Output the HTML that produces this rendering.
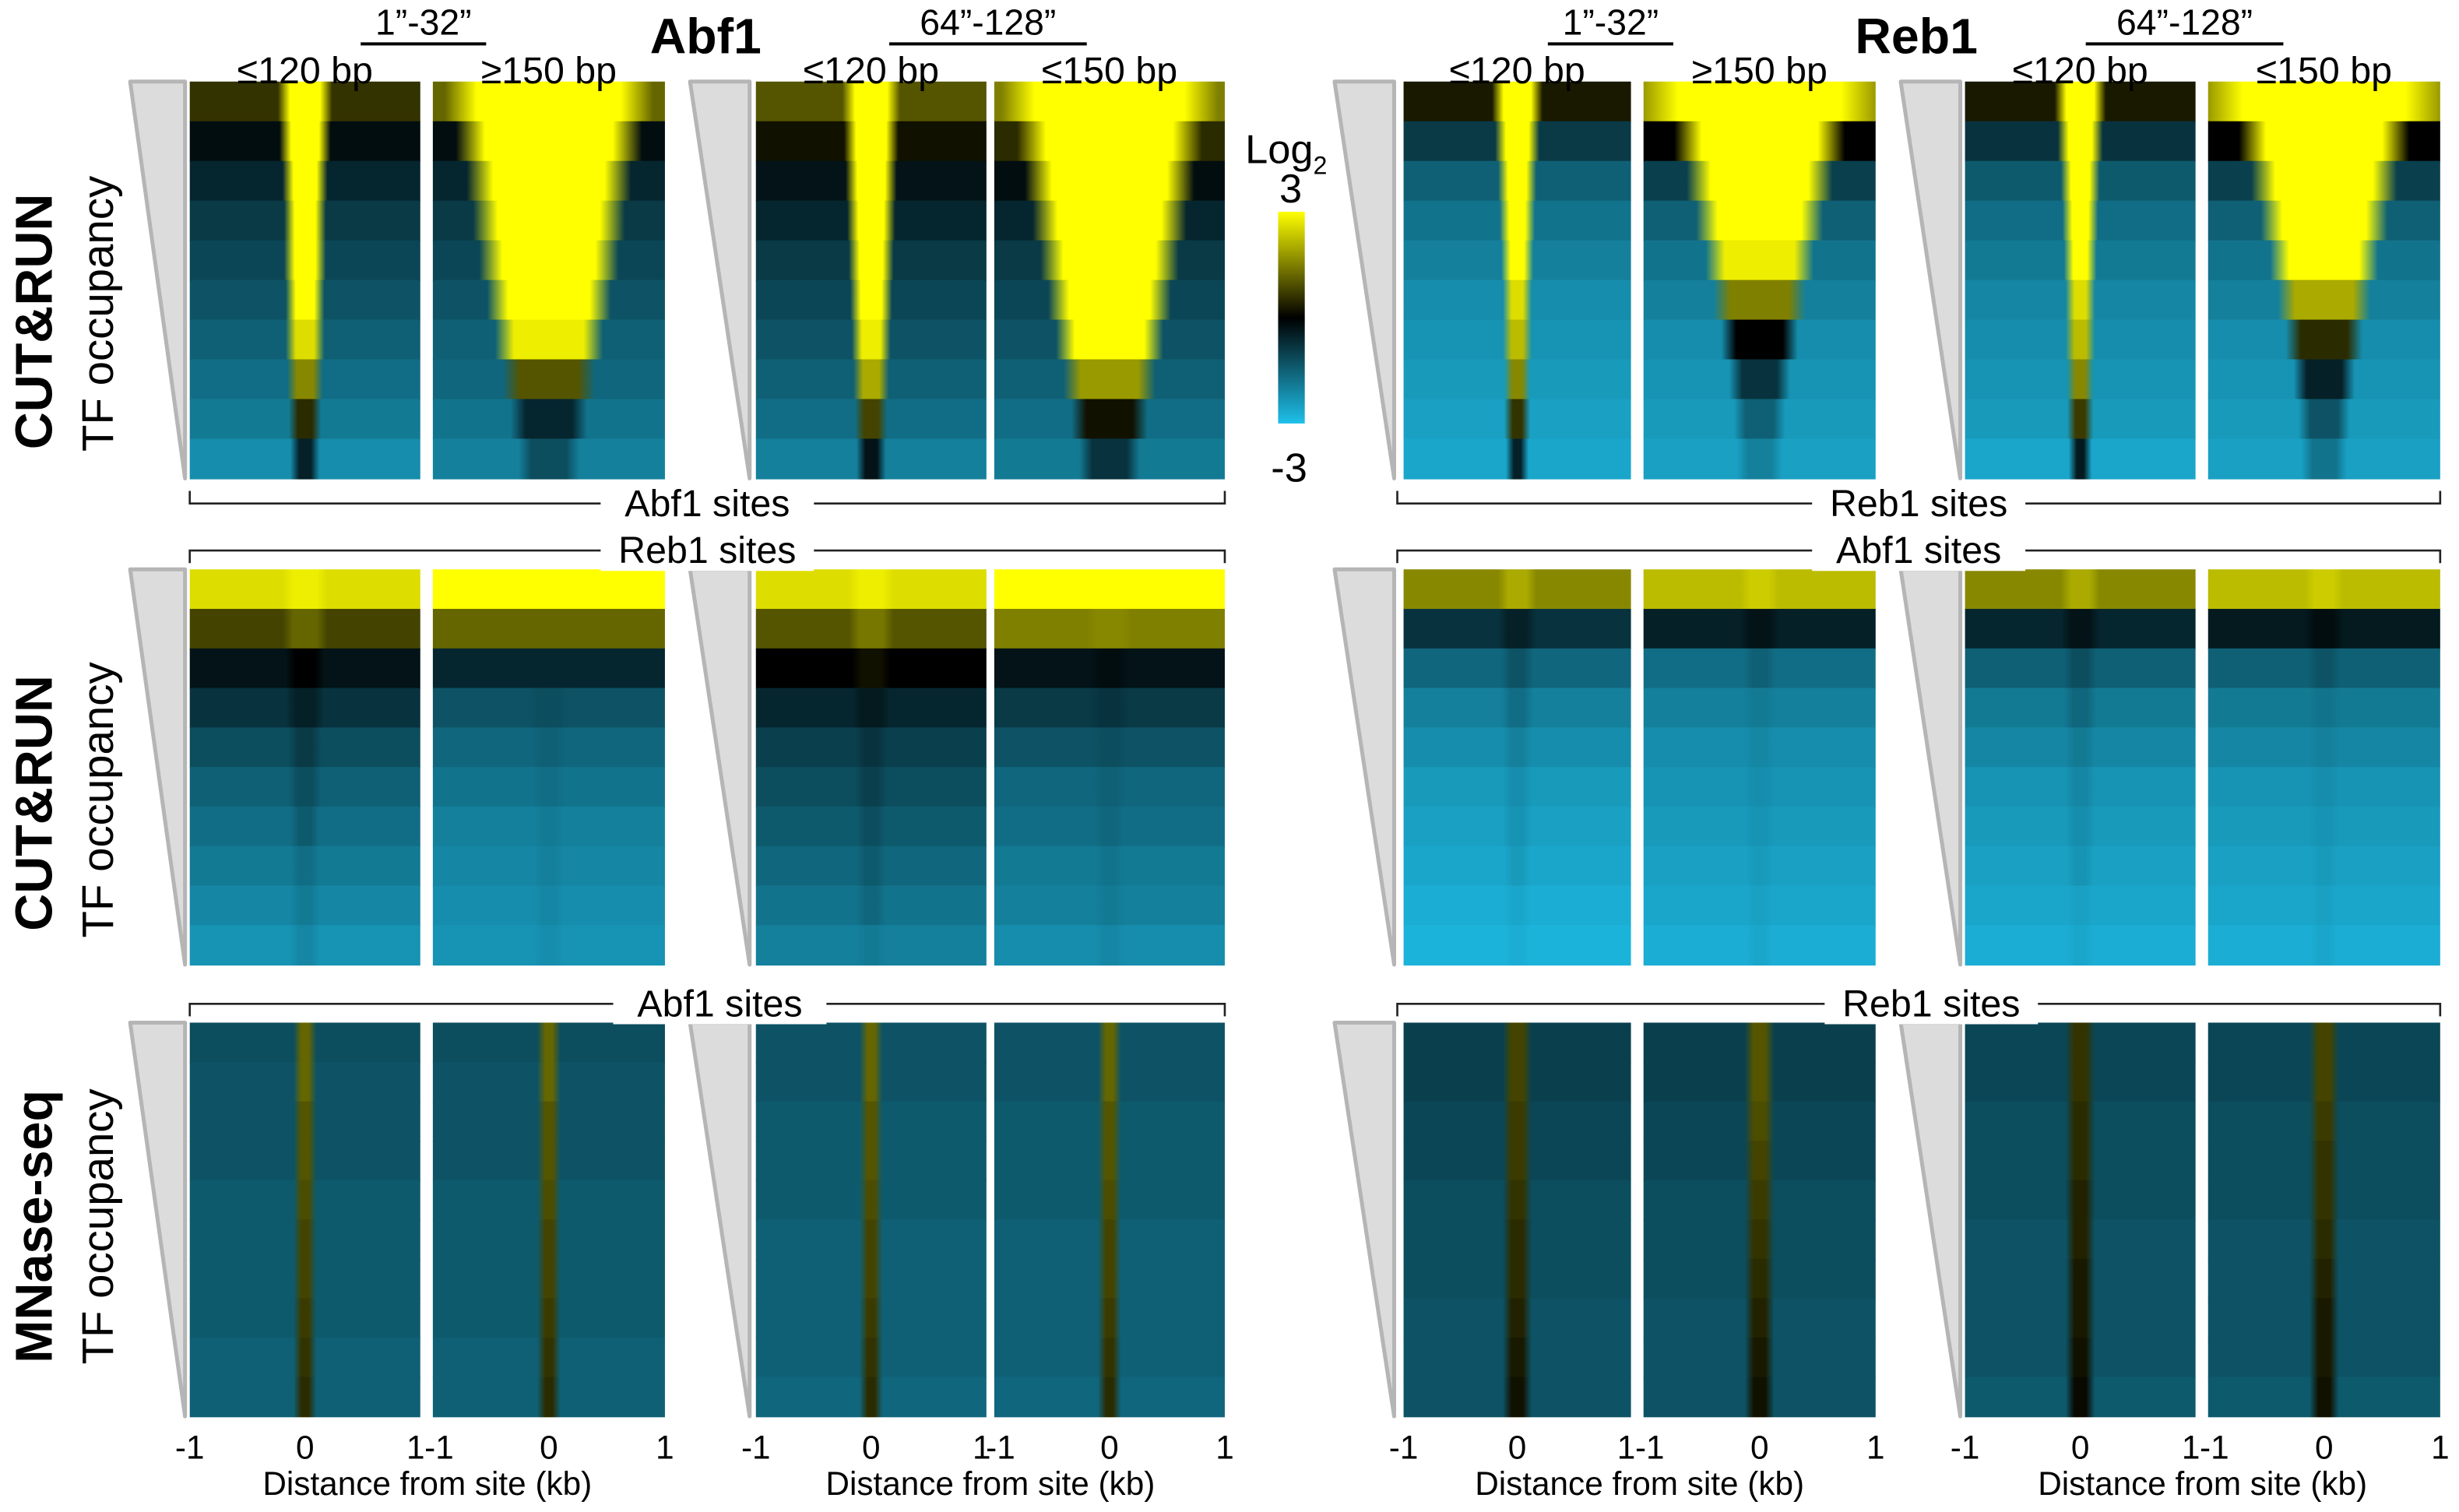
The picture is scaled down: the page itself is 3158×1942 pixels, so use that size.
<!DOCTYPE html>
<html><head><meta charset="utf-8"><style>
html,body{margin:0;padding:0;background:#fff;}
svg{display:block;}
text{font-family:"Liberation Sans",sans-serif;fill:#000;}
</style></head><body>
<svg id="fig" width="3158" height="1942" viewBox="0 0 1568 964" preserveAspectRatio="none" xmlns="http://www.w3.org/2000/svg">
<defs id="defs">
<linearGradient id="cbar" x1="0" y1="0" x2="0" y2="1">
<stop offset="0" stop-color="#ffff00"/><stop offset="0.5" stop-color="#000"/><stop offset="1" stop-color="#1ec0ea"/>
</linearGradient>
</defs>
<g id="static">
<text x="450" y="34" font-size="32" font-weight="bold" text-anchor="middle">Abf1</text>
<text x="1222" y="34" font-size="32" font-weight="bold" text-anchor="middle">Reb1</text>
<text x="270" y="22" font-size="23" text-anchor="middle">1”-32”</text>
<line x1="230" y1="28" x2="310" y2="28" stroke="#000" stroke-width="2"/>
<text x="630" y="22" font-size="23" text-anchor="middle">64”-128”</text>
<line x1="567" y1="28" x2="693" y2="28" stroke="#000" stroke-width="2"/>
<text x="1027" y="22" font-size="23" text-anchor="middle">1”-32”</text>
<line x1="987" y1="28" x2="1067" y2="28" stroke="#000" stroke-width="2"/>
<text x="1393" y="22" font-size="23" text-anchor="middle">64”-128”</text>
<line x1="1330" y1="28" x2="1456" y2="28" stroke="#000" stroke-width="2"/>
<text x="794" y="104" font-size="26">Log<tspan font-size="16" dy="7">2</tspan></text>
<text x="823" y="129" font-size="26" text-anchor="middle">3</text>
<rect x="815" y="135" width="17" height="135" fill="url(#cbar)"/>
<text x="822" y="307" font-size="26" text-anchor="middle">-3</text>
<text transform="translate(33,205) rotate(-90)" font-size="33" font-weight="bold" text-anchor="middle">CUT&amp;RUN</text>
<text transform="translate(72,200) rotate(-90)" font-size="28" text-anchor="middle">TF occupancy</text>
<text transform="translate(33,512) rotate(-90)" font-size="33" font-weight="bold" text-anchor="middle">CUT&amp;RUN</text>
<text transform="translate(72,510) rotate(-90)" font-size="28" text-anchor="middle">TF occupancy</text>
<text transform="translate(33,782) rotate(-90)" font-size="33" font-weight="bold" text-anchor="middle">MNase-seq</text>
<text transform="translate(72,782) rotate(-90)" font-size="28" text-anchor="middle">TF occupancy</text>
</g>
<g id="marks"></g>
</svg>
<script>
const colX = [[121,268],[276,424],[482,629],[634,781],[895,1040],[1048,1196],[1253,1400],[1408,1556]];
const rowY = [[52,305],[363,615],[652,903]];
const colLabels = ["≤120 bp","≥150 bp","≤120 bp","≤150 bp","≤120 bp","≥150 bp","≤120 bp","≤150 bp"];
const triX = [[83,118],[440,478],[851,889],[1212,1250]];
const xTicks = [-1,0,1];
const xTickLabels = ["-1","0","1"];
const siteLabels = [["Abf1 sites","Reb1 sites"],["Reb1 sites","Abf1 sites"],["Abf1 sites","Reb1 sites"]];
// per-panel data: 10 row bins top->bottom, log2 values
const centerVals = [
 [[3,3,3,3,3,3,2.6,1.6,0.5,-0.5],[3,3,3,3,3,3,2.8,1,-0.6,-1.2],[3,3,3,3,3,3,2.8,2,0.8,-0.3],[3,3,3,3,3,3,3,1.8,0.2,-0.8],
  [3,3,3,3,3,2.6,2.2,1.6,0.6,-0.5],[3,3,3,3,2.8,1.5,0,-0.8,-1.5,-2],[3,3,3,3,3,2.6,2.2,1.6,0.7,-0.4],[3,3,3,3,3,2,0.5,-0.5,-1.3,-1.8]],
 [[2.8,1.2,0,-0.5,-0.9,-1.2,-1.4,-1.7,-1.9,-2.1],[3,1.2,-0.6,-1.2,-1.5,-1.7,-1.9,-2,-2.1,-2.2],[2.8,1.4,0.2,-0.4,-0.8,-1,-1.2,-1.4,-1.6,-1.9],[3,1.6,-0.2,-0.8,-1.2,-1.5,-1.6,-1.8,-1.9,-2.1],
  [2,-0.5,-1.3,-1.7,-2,-2.2,-2.3,-2.4,-2.6,-2.7],[2.4,-0.3,-1.5,-1.9,-2.1,-2.2,-2.3,-2.4,-2.5,-2.6],[2,-0.3,-1.2,-1.6,-1.9,-2.1,-2.2,-2.3,-2.5,-2.6],[2.4,-0.2,-1.3,-1.8,-2,-2.2,-2.3,-2.4,-2.5,-2.6]],
 [[1.2,1.2,1,1,0.9,0.8,0.8,0.7,0.6,0.5],[1.2,1.2,1,1,0.9,0.8,0.8,0.7,0.6,0.5],[1.2,1.2,1,1,0.9,0.8,0.8,0.7,0.6,0.5],[1.2,1.2,1,1,0.9,0.8,0.8,0.7,0.6,0.5],
  [0.8,0.8,0.7,0.7,0.6,0.5,0.5,0.4,0.3,0.2],[1,1,0.9,0.8,0.7,0.6,0.5,0.4,0.3,0.2],[0.6,0.6,0.5,0.5,0.4,0.4,0.3,0.3,0.2,0.1],[0.8,0.8,0.7,0.6,0.6,0.5,0.4,0.3,0.3,0.2]]
];
const flankVals = [
 [[0.6,-0.2,-0.6,-0.9,-1.1,-1.3,-1.5,-1.7,-1.9,-2.2],[1.2,-0.2,-0.6,-0.9,-1.1,-1.3,-1.5,-1.6,-1.8,-2],[1,0.2,-0.3,-0.6,-0.9,-1.1,-1.3,-1.5,-1.7,-2],[1.5,0.5,-0.2,-0.6,-0.9,-1.1,-1.3,-1.5,-1.7,-1.9],
  [0.3,-0.9,-1.5,-1.8,-2,-2.2,-2.3,-2.4,-2.5,-2.6],[1.8,0,-1,-1.5,-1.8,-2,-2.2,-2.3,-2.4,-2.5],[0.3,-0.8,-1.4,-1.7,-1.9,-2.1,-2.2,-2.3,-2.4,-2.6],[1.8,0,-1,-1.5,-1.8,-2,-2.2,-2.3,-2.4,-2.5]],
 [[2.6,0.8,-0.3,-0.8,-1.2,-1.5,-1.7,-1.9,-2.1,-2.3],[3,1.2,-0.6,-1.3,-1.6,-1.8,-2,-2.1,-2.2,-2.3],[2.6,1,0,-0.6,-1,-1.2,-1.4,-1.6,-1.8,-2],[3,1.5,-0.3,-0.9,-1.3,-1.6,-1.7,-1.9,-2,-2.2],
  [1.6,-0.8,-1.6,-2,-2.2,-2.4,-2.5,-2.6,-2.7,-2.8],[2.2,-0.5,-1.7,-2,-2.2,-2.3,-2.4,-2.5,-2.6,-2.7],[1.6,-0.6,-1.5,-1.9,-2.1,-2.3,-2.4,-2.5,-2.6,-2.7],[2.2,-0.4,-1.5,-1.9,-2.1,-2.3,-2.4,-2.5,-2.6,-2.7]],
 [[-1.2,-1.3,-1.3,-1.3,-1.4,-1.4,-1.4,-1.4,-1.5,-1.5],[-1.2,-1.3,-1.3,-1.3,-1.4,-1.4,-1.4,-1.4,-1.5,-1.5],[-1.3,-1.3,-1.4,-1.4,-1.4,-1.5,-1.5,-1.5,-1.5,-1.6],[-1.3,-1.3,-1.4,-1.4,-1.4,-1.5,-1.5,-1.5,-1.5,-1.6],
  [-1,-1,-1.1,-1.1,-1.2,-1.2,-1.2,-1.3,-1.3,-1.3],[-1,-1,-1.1,-1.1,-1.2,-1.2,-1.2,-1.3,-1.3,-1.3],[-1.1,-1.1,-1.2,-1.2,-1.2,-1.3,-1.3,-1.3,-1.3,-1.4],[-1.1,-1.1,-1.2,-1.2,-1.2,-1.3,-1.3,-1.3,-1.3,-1.4]]
];
const halfWidthKb = [
 [[0.13,0.12,0.1,0.09,0.09,0.08,0.08,0.07,0.06,0.05],[0.62,0.55,0.48,0.44,0.4,0.35,0.3,0.25,0.2,0.15],[0.14,0.13,0.12,0.11,0.1,0.09,0.08,0.07,0.06,0.05],[0.65,0.55,0.5,0.45,0.4,0.35,0.3,0.25,0.2,0.15],
  [0.12,0.1,0.08,0.07,0.06,0.05,0.05,0.04,0.04,0.03],[0.7,0.5,0.42,0.36,0.3,0.25,0.2,0.15,0.12,0.1],[0.12,0.1,0.08,0.07,0.06,0.05,0.05,0.04,0.04,0.03],[0.7,0.5,0.42,0.36,0.3,0.25,0.2,0.15,0.12,0.1]],
 [[0.1,0.1,0.08,0.08,0.06,0.06,0.05,0.05,0.05,0.05],[0.1,0.1,0.08,0.08,0.06,0.06,0.05,0.05,0.05,0.05],[0.1,0.1,0.08,0.08,0.06,0.06,0.05,0.05,0.05,0.05],[0.1,0.1,0.08,0.08,0.06,0.06,0.05,0.05,0.05,0.05],
  [0.08,0.08,0.06,0.06,0.05,0.05,0.05,0.04,0.04,0.04],[0.08,0.08,0.06,0.06,0.05,0.05,0.05,0.04,0.04,0.04],[0.08,0.08,0.06,0.06,0.05,0.05,0.05,0.04,0.04,0.04],[0.08,0.08,0.06,0.06,0.05,0.05,0.05,0.04,0.04,0.04]],
 [[0.03,0.03,0.03,0.03,0.03,0.03,0.03,0.03,0.03,0.03],[0.03,0.03,0.03,0.03,0.03,0.03,0.03,0.03,0.03,0.03],[0.03,0.03,0.03,0.03,0.03,0.03,0.03,0.03,0.03,0.03],[0.03,0.03,0.03,0.03,0.03,0.03,0.03,0.03,0.03,0.03],
  [0.05,0.05,0.05,0.05,0.05,0.05,0.05,0.05,0.05,0.05],[0.05,0.05,0.05,0.05,0.05,0.05,0.05,0.05,0.05,0.05],[0.05,0.05,0.05,0.05,0.05,0.05,0.05,0.05,0.05,0.05],[0.05,0.05,0.05,0.05,0.05,0.05,0.05,0.05,0.05,0.05]]
];

const NS = "http://www.w3.org/2000/svg";
const marks = document.getElementById('marks');
const defs = document.getElementById('defs');
function color(v){
  v = Math.max(-3, Math.min(3, v));
  let r,g,b;
  if (v >= 0){ const t = v/3; r = 255*t; g = 255*t; b = 0; }
  else { const t = -v/3; r = 30*t; g = 192*t; b = 234*t; }
  return `rgb(${Math.round(r)},${Math.round(g)},${Math.round(b)})`;
}
function xFrac(kb){ return (kb + 1) / 2; }
function xPix(col, kb){ const c = colX[col]; return c[0] + xFrac(kb) * (c[1]-c[0]); }
function el(tag, attrs, parent){
  const e = document.createElementNS(NS, tag);
  for (const k in attrs) e.setAttribute(k, attrs[k]);
  (parent||marks).appendChild(e);
  return e;
}
let gid = 0;
for (let r = 0; r < rowY.length; r++){
  for (let c = 0; c < colX.length; c++){
    const g = el('g', {});
    
    
    const cv = centerVals[r][c], fv = flankVals[r][c], hw = halfWidthKb[r][c];
    const n = cv.length;
    const y0 = rowY[r][0], h = (rowY[r][1]-rowY[r][0]) / n;
    for (let i = 0; i < n; i++){
      const id = 'hg' + (gid++);
      const lg = el('linearGradient', {id:id, x1:'0', y1:'0', x2:'1', y2:'0'}, defs);
      const tr = 0.06 + hw[i]*0.35;
      const stops = [[0,fv[i]],[xFrac(-hw[i]-tr),fv[i]],[xFrac(-hw[i]),cv[i]],[xFrac(hw[i]),cv[i]],[xFrac(hw[i]+tr),fv[i]],[1,fv[i]]];
      stops.forEach(s => el('stop', {offset: Math.max(0,Math.min(1,s[0])), 'stop-color': color(s[1])}, lg));
      const rc = el('rect', {x: colX[c][0], y: y0 + i*h, width: colX[c][1]-colX[c][0], height: h + 0.6, fill: `url(#${id})`}, g);
      
      
    }
  }
  for (let t = 0; t < triX.length; t++){
    const p = el('polygon', {points: `${triX[t][0]},${rowY[r][0]} ${triX[t][1]},${rowY[r][0]} ${triX[t][1]},${rowY[r][1]}`, fill:'#dcdcdc', stroke:'#b5b5b5', 'stroke-width':2.5, 'stroke-linejoin':'round'});
    
    
  }
}
for (let c = 0; c < colX.length; c++){
  const t = el('text', {x: (colX[c][0]+colX[c][1])/2, y: 53, 'font-size': 24, 'text-anchor':'middle'});
  t.textContent = colLabels[c];
  
  
}
const brSpans = [[121,781],[891,1556]];
const brY = [[321,313],[351,359],[640,648]];
for (let r = 0; r < 3; r++){
  for (let s = 0; s < 2; s++){
    const [a,b] = brSpans[s], [yl, yt] = brY[r];
    const pl = el('polyline', {points:`${a},${yt} ${a},${yl} ${b},${yl} ${b},${yt}`, fill:'none', stroke:'#222', 'stroke-width':1.3});
    
    
    const cx = (a+b)/2 + (r===2 ? 8 : 0);
    el('rect', {x: cx-68, y: yl-13, width:136, height:26, fill:'#fff'});
    const t = el('text', {x: cx, y: yl+8, 'font-size': 24, 'text-anchor':'middle'});
    t.textContent = siteLabels[r][s];
    
    
  }
}
for (let c = 0; c < colX.length; c++){
  for (let k = 0; k < xTicks.length; k++){
    let x = xPix(c, xTicks[k]);
    if (k===0 && c%2===1) x += 4;
    if (k===2 && c%2===0) x -= 3;
    const t = el('text', {x: x, y: 930, 'font-size': 21, 'text-anchor':'middle'});
    t.textContent = xTickLabels[k];
    
    
  }
}
for (let p = 0; p < 4; p++){
  const cx = (colX[2*p][0] + colX[2*p+1][1]) / 2;
  const t = el('text', {x: cx, y: 953, 'font-size': 21, 'text-anchor':'middle'});
  t.textContent = 'Distance from site (kb)';
  
  
}
</script>
</body></html>
